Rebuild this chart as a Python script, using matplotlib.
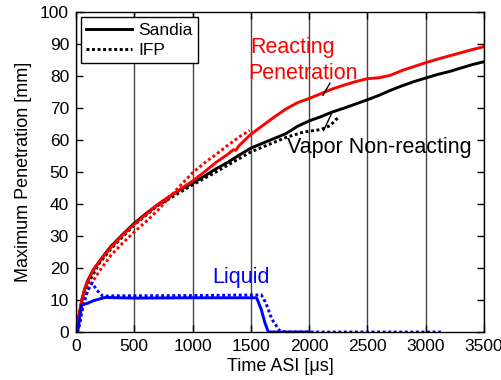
import matplotlib
matplotlib.use("Agg")
import matplotlib.pyplot as plt
import numpy as np

plt.rcParams['font.family'] = ['Liberation Sans', 'DejaVu Sans']

# Sandia vapor (non-reacting), solid black
sv_t = [0, 25, 50, 75, 100, 150, 200, 250, 300, 400, 500, 600, 700, 800, 900, 1000,
        1100, 1200, 1300, 1400, 1500, 1600, 1700, 1800, 1900, 2000, 2100, 2200, 2300,
        2400, 2500, 2600, 2700, 2800, 2900, 3000, 3100, 3200, 3300, 3400, 3500]
sv_y = [0, 5, 10, 13.5, 16, 19.5, 22, 24.5, 26.8, 30.5, 34, 37, 39.8, 42.3, 44.6, 46.5,
        48.7, 51, 53, 55.3, 57.5, 59, 60.5, 62, 64.3, 66, 67.3, 68.8, 70,
        71.3, 72.6, 74, 75.6, 77, 78.3, 79.4, 80.5, 81.4, 82.5, 83.6, 84.5]
# IFP vapor, dotted black
iv_t = [0, 30, 60, 100, 200, 300, 500, 700, 1000, 1200, 1500, 1800, 1950, 2100, 2180, 2260]
iv_y = [0, 4, 10, 15, 21.5, 26, 33.5, 39.5, 46, 50, 56.3, 60.8, 62.5, 63.3, 64.5, 67.5]
# Sandia reacting, solid red
sr_t = [0, 25, 50, 75, 100, 150, 200, 250, 300, 400, 500, 600, 700, 800, 900, 1000,
        1100, 1200, 1300, 1350, 1370, 1400, 1500, 1600, 1700, 1800, 1900, 2000, 2100,
        2200, 2300, 2400, 2500, 2600, 2700, 2800, 2900, 3000, 3100, 3200, 3300, 3400, 3500]
sr_y = [0, 5, 10, 13.5, 16, 19.5, 22, 24.3, 26.5, 30.3, 33.7, 36.8, 39.8, 42.3, 44.8, 47.2,
        50, 53, 55.5, 57, 56.8, 58.3, 61.8, 64.5, 67.2, 69.7, 71.7, 73, 74.5,
        76, 77.2, 78.3, 79.2, 79.5, 80.3, 81.8, 83, 84.2, 85.3, 86.3, 87.3, 88.3, 89.2]
# IFP reacting, dotted red
ir_t = [0, 40, 80, 120, 200, 300, 400, 500, 600, 700, 800, 900, 1000, 1100, 1200, 1300, 1400, 1490]
ir_y = [0, 6, 11, 14.5, 19, 24, 27.8, 31.3, 34.5, 38, 42, 46, 49.8, 52.8, 55.5, 58.3, 61, 63]
# Sandia liquid, solid blue
sl_t = [0, 15, 30, 50, 100, 150, 200, 250, 500, 1000, 1550, 1590, 1620, 1650, 2000]
sl_y = [0, 0, 4, 8.5, 9, 9.8, 10.3, 10.8, 10.6, 10.7, 10.7, 7, 3, 0, 0]
# IFP liquid, dotted blue
il_t = [0, 30, 60, 100, 140, 180, 230, 300, 1000, 1590, 1630, 1680, 1750, 1800, 3150]
il_y = [0, 2, 8, 13, 15.3, 13, 11.2, 11.3, 11.4, 11.6, 9, 4, 0.3, 0, 0]

fig = plt.figure(figsize=(5.02, 3.80), dpi=100)
ax = fig.add_axes([0.1514, 0.1263, 0.8126, 0.8417])

lw = 2.1
dot = (0, (1, 0.9))
l1, = ax.plot(sv_t, sv_y, color='black', lw=lw, label='Sandia')
l2, = ax.plot(iv_t, iv_y, color='black', lw=lw, ls=dot, label='IFP')
ax.plot(sr_t, sr_y, color='#ff0000', lw=lw)
ax.plot(ir_t, ir_y, color='#ff0000', lw=lw, ls=dot)
ax.plot(sl_t, sl_y, color='#0000ff', lw=lw)
ax.plot(il_t, il_y, color='#0000ff', lw=lw, ls=dot)

ax.set_xlim(0, 3500)
ax.set_ylim(0, 100)
ax.set_xticks(np.arange(0, 3501, 500))
ax.set_yticks(np.arange(0, 101, 10))
ax.tick_params(direction='in', top=True, right=True, length=5, width=1,
               labelsize=12.5, pad=5)
ax.grid(axis='x', color='#444444', lw=1)
for s in ax.spines.values():
    s.set_linewidth(1)

ax.set_xlabel('Time ASI [\u03bcs]', fontsize=13, labelpad=3)
ax.set_ylabel('Maximum Penetration [mm]', fontsize=13, labelpad=6)

ax.text(1493, 87.2, 'Reacting', color='#ff0000', fontsize=15.5, va='baseline')
ax.text(1475, 79, 'Penetration', color='#ff0000', fontsize=15.5, va='baseline')
ax.text(1810, 56, 'Vapor Non-reacting', color='black', fontsize=15.5, va='baseline')
ax.text(1167, 15.3, 'Liquid', color='#0000ff', fontsize=15.5, va='baseline')
ax.plot([2119, 2179], [74, 77.8], color='black', lw=1)
ax.plot([2125, 2195], [63, 68.5], color='black', lw=1)

leg = ax.legend(handles=[l1, l2], loc='upper left', fontsize=12.5, frameon=True,
                fancybox=False, edgecolor='black', framealpha=1, handlelength=2.6,
                borderaxespad=0.3, borderpad=0.3, labelspacing=0.3, handletextpad=0.4)
leg.get_frame().set_linewidth(1)

fig.savefig('out.png', dpi=100)
